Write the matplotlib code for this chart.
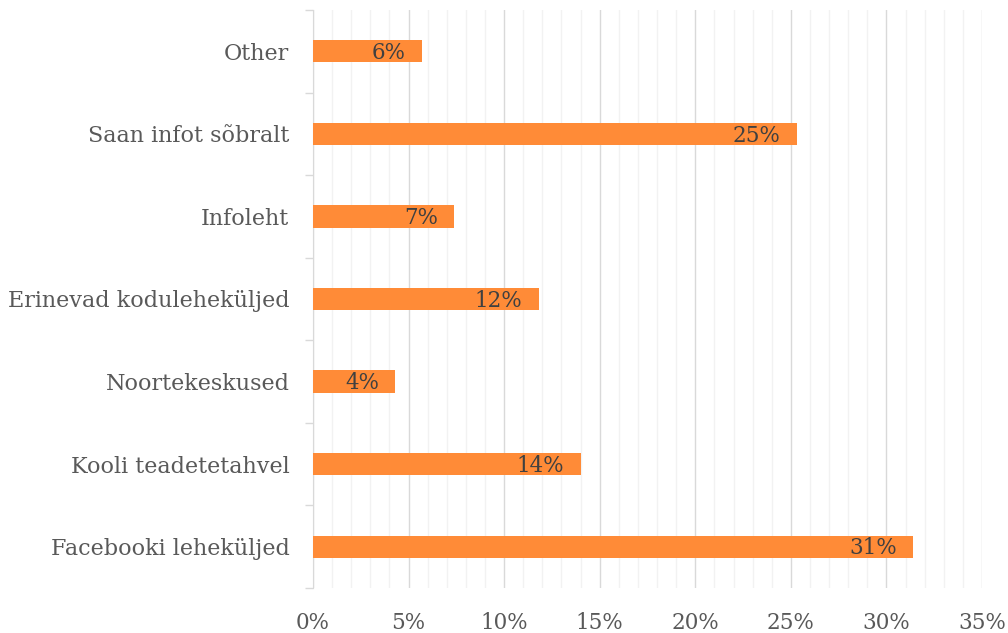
import matplotlib
matplotlib.use("Agg")
import matplotlib.pyplot as plt
from matplotlib.ticker import MultipleLocator, FuncFormatter, FixedLocator

categories = ["Facebooki leheküljed", "Kooli teadetetahvel", "Noortekeskused",
              "Erinevad koduleheküljed", "Infoleht", "Saan infot sõbralt", "Other"]
values = [31.4, 14.0, 4.3, 11.8, 7.4, 25.3, 5.7]
labels = ["31%", "14%", "4%", "12%", "7%", "25%", "6%"]

plt.rcParams['font.family'] = ['DejaVu Serif']
fig = plt.figure(figsize=(10.08, 6.33), dpi=100)
ax = fig.add_axes([313/1008, 1-588/633, (982-313)/1008, (588-10)/633])

ypos = list(range(len(categories)))
ax.barh(ypos, values, height=0.27, color="#FF8B37", zorder=3)
for y, v, l in zip(ypos, values, labels):
    ax.text(v - 0.85, y - 0.02, l, ha="right", va="center", fontsize=15.5, color="#404040", zorder=4)

ax.set_xlim(0, 35)
ax.set_ylim(-0.5, len(categories) - 0.5)
ax.xaxis.set_major_locator(MultipleLocator(5))
ax.xaxis.set_minor_locator(MultipleLocator(1))
ax.xaxis.set_major_formatter(FuncFormatter(lambda x, p: f"{int(round(x))}%"))
ax.grid(axis="x", which="major", color="#D9D9D9", linewidth=1.0, zorder=0)
ax.grid(axis="x", which="minor", color="#F2F2F2", linewidth=1.0, zorder=0)
ax.tick_params(axis="x", which="both", length=0, pad=17, labelsize=15.5, labelcolor="#595959")

ax.set_yticks(ypos)
ax.set_yticklabels(categories)
ax.tick_params(axis="y", which="major", length=0, pad=17, labelsize=16, labelcolor="#595959")
ax.yaxis.set_minor_locator(FixedLocator([i - 0.5 for i in range(len(categories) + 1)]))
ax.tick_params(axis="y", which="minor", length=6, color="#D9D9D9", width=1)

for s in ["top", "right", "bottom"]:
    ax.spines[s].set_visible(False)
ax.spines["left"].set_color("#D9D9D9")

fig.savefig("out.png", dpi=100)
